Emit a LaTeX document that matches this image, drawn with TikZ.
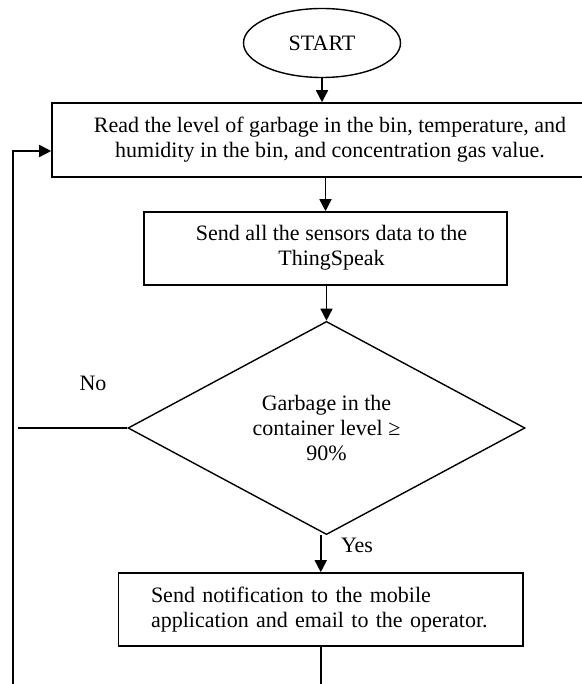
\documentclass[tikz,border=0pt]{standalone}
\usepackage{fontspec}
\setmainfont{Liberation Serif}
\usetikzlibrary{shapes.geometric,arrows.meta}
\begin{document}
\begin{tikzpicture}[x=1pt,y=-1pt,
  every node/.style={font=\fontsize{22}{25}\selectfont, inner sep=0pt},
  line/.style={line width=1.6pt},
  arr/.style={line width=1.6pt, -{Triangle[length=12pt,width=12pt]}},
  boxnode/.style={draw, line width=1.6pt, rectangle, align=center},
  startnode/.style={draw, line width=1.4pt, ellipse, minimum width=157pt, minimum height=69pt},
  decision/.style={draw, line width=1.4pt, diamond, minimum width=397pt, minimum height=208pt, align=center}
]
\useasboundingbox (0,0) rectangle (581,684);

\node[startnode] (start) at (322,43) {START};
\node[boxnode, minimum width=556pt, minimum height=74pt] (read) at (330,140)
  {Read the level of garbage in the bin, temperature, and\\humidity in the bin, and concentration gas value.};
\node[boxnode, minimum width=363pt, minimum height=73pt] (send) at (325.5,248.5)
  {\raisebox{3pt}{\hspace{12pt}\begin{tabular}{@{}c@{}}Send all the sensors data to the\\ThingSpeak\end{tabular}}};
\node[decision] (dec) at (326.5,428) {Garbage in the\\container level ≥\\90\%};
\node[boxnode, minimum width=404.5pt, minimum height=73pt, align=left, text width=339.5pt] (notify) at (320.75,609.5)
  {Send notification to the mobile\\application and email to the operator.};

\node (no) at (93,383) {No};
\node (yes) at (357,545) {Yes};

\coordinate (nofree) at (18,428);
\coordinate (loopbot) at (12.7,700);
\coordinate (looptop) at (12.7,151);
\coordinate (endbot) at (320.75,700);

\draw[arr] (start.south) -- (start.south |- read.north);
\draw[arr] (send.north |- read.south) -- (send.north);
\draw[arr] (dec.north |- send.south) -- (dec.north);
\draw[arr] (notify.north |- dec.south) -- (notify.north);
\draw[line] (dec.west) -- (nofree);
\draw[arr] (loopbot) -- (looptop) -- (read.west |- looptop);
\draw[line] (notify.south) -- (endbot);
\end{tikzpicture}
\end{document}
